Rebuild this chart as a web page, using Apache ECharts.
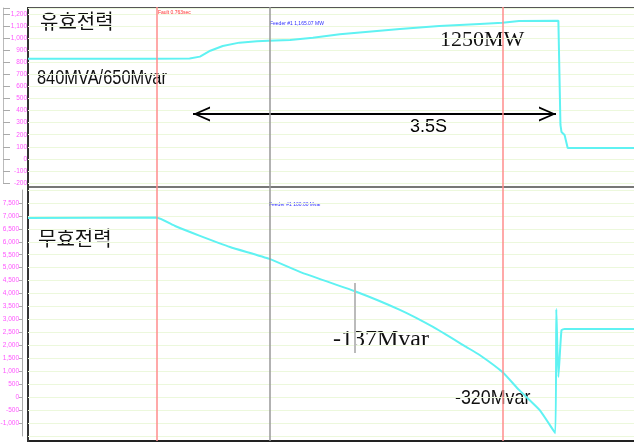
<!DOCTYPE html>
<html>
<head>
<meta charset="utf-8">
<script src="https://cdn.jsdelivr.net/npm/echarts@6/dist/echarts.min.js"></script>
<style>
  html, body { margin: 0; padding: 0; background: #fff; }
  #chart { width: 634px; height: 443px; }
</style>
</head>
<body>
<div id="chart"></div>
<script type="text/javascript">
// time axis (seconds) shared by both panels
var tMax = 5.85;

// active power trace (top panel)
var timeP   = [0, 1.18, 1.56, 1.66, 1.76, 1.88, 2.04, 2.21, 2.32, 2.53, 2.75, 3.01, 3.59, 3.97, 4.36, 4.58, 4.74, 5.12, 5.14, 5.15, 5.18, 5.21, 5.85];
var activeP = [830, 830, 832, 847, 896, 935, 963, 974, 979, 985, 1004, 1032, 1076, 1101, 1118, 1128, 1142, 1145, 281, 223, 198, 90, 90];

// reactive power trace (bottom panel)
var timeQ     = [0, 1.24, 1.42, 1.66, 1.95, 2.33, 2.63, 3.15, 3.59, 3.91, 4.23, 4.36, 4.58, 4.74, 4.94, 5.09, 5.10, 5.12, 5.15, 5.18, 5.85];
var reactiveQ = [6920, 6940, 6610, 6230, 5800, 5340, 4830, 4100, 3370, 2710, 1940, 1630, 970, 280, -500, -1390, 3400, 780, 2590, 2630, 2630];

// y tick ranges
var pTicks = { min: -200, max: 1250, step: 100 };
var qTicks = { min: -1500, max: 8000, step: 500 };

// cursors / events
var faultT = 1.235, cursorT = 2.326, tripT = 4.585;
var cursor2T = 3.156, cursor2Q = [4407, 1704];
var arrowT = [1.593, 5.097], arrowP = 372;

function zip(xs, ys) {
    var out = [];
    for (var i = 0; i < xs.length; i++) out.push([xs[i], ys[i]]);
    return out;
}

var cyan = '#5ff2f2';
var gridGreen = '#ecf8dc';
var pink = '#ff55ff';
// open chevron, tip at the symbol centre
var chevron = 'path://M7.5,0L7.5,0M0,34L7.5,17L15,34L13,34L7.5,21L2,34Z';

function hiddenAxis(extra) {
    var a = {
        type: 'value',
        axisLine: { show: false, onZero: false }, axisTick: { show: false },
        axisLabel: { show: false }, splitLine: { show: false }
    };
    return echarts.util.extend(a, extra);
}

var dom = document.getElementById('chart');
var chart = echarts.init(dom);

var option = {
    animation: false,
    backgroundColor: '#fff',
    grid: [
        { left: 28, right: 0, top: 8, height: 175, containLabel: false, outerBoundsMode: 'none' },
        { left: 28, right: 0, top: 190, height: 246, containLabel: false, outerBoundsMode: 'none' },
        { left: 28, right: 0, top: 7, height: 434, containLabel: false, outerBoundsMode: 'none' }
    ],
    xAxis: [
        hiddenAxis({ gridIndex: 0, min: 0, max: tMax }),
        hiddenAxis({ gridIndex: 1, min: 0, max: tMax }),
        hiddenAxis({ gridIndex: 2, min: 0, max: tMax })
    ],
    yAxis: [
        {
            gridIndex: 0, type: 'value', min: pTicks.min, max: pTicks.max, interval: pTicks.step,
            axisLine: { show: false, onZero: false },
            axisTick: { show: false },
            axisLabel: { fontSize: 6.5, color: pink, margin: 1, showMaxLabel: false },
            splitLine: { lineStyle: { color: gridGreen, width: 1 } },
            name: 'Active Power (MW)', nameLocation: 'middle', nameRotate: 90, nameGap: 13,
            nameTextStyle: { color: '#ff4040', fontSize: 6 }
        },
        {
            // gray ruler at the far left of the top panel
            gridIndex: 0, type: 'value', position: 'left', offset: 25,
            min: pTicks.min, max: pTicks.max, interval: pTicks.step,
            axisLine: { show: true, onZero: false, lineStyle: { color: '#bbb' } },
            axisTick: { show: true, inside: true, length: 7, lineStyle: { color: '#aaa' } },
            axisLabel: { show: false },
            splitLine: { show: false }
        },
        {
            gridIndex: 1, type: 'value', min: qTicks.min, max: qTicks.max, interval: qTicks.step,
            position: 'left', offset: 6,
            axisLine: { show: true, onZero: false, lineStyle: { color: '#aaa' } },
            axisTick: { show: true, length: 3, lineStyle: { color: '#aaa' } },
            axisLabel: { fontSize: 6.5, color: pink, margin: 3, showMinLabel: false, showMaxLabel: false },
            splitLine: { lineStyle: { color: gridGreen, width: 1 } },
            name: 'Reactive Power (Mvar)', nameLocation: 'middle', nameRotate: 90, nameGap: 17,
            nameTextStyle: { color: '#ff4040', fontSize: 6 }
        },
        hiddenAxis({ gridIndex: 2, min: 0, max: 1 })
    ],
    series: [
        {
            type: 'line', xAxisIndex: 0, yAxisIndex: 0,
            data: zip(timeP, activeP),
            symbol: 'none', silent: true,
            lineStyle: { color: cyan, width: 2 },
            markLine: {
                silent: true, animation: false,
                label: { show: false },
                lineStyle: { color: '#000', width: 2, type: 'solid' },
                data: [[
                    { coord: [arrowT[0], arrowP], symbol: chevron, symbolSize: [15, 34] },
                    { coord: [arrowT[1], arrowP], symbol: chevron, symbolSize: [15, 34] }
                ]]
            }
        },
        {
            type: 'line', xAxisIndex: 1, yAxisIndex: 2,
            data: zip(timeQ, reactiveQ),
            symbol: 'none', silent: true, smooth: 0.15,
            lineStyle: { color: cyan, width: 2 },
            markLine: {
                silent: true, animation: false, symbol: 'none',
                label: { show: false },
                lineStyle: { color: '#bbb', width: 2, type: 'solid' },
                data: [[
                    { coord: [cursor2T, cursor2Q[0]] },
                    { coord: [cursor2T, cursor2Q[1]] }
                ]]
            }
        },
        {
            // vertical event cursors across both panels
            type: 'line', xAxisIndex: 2, yAxisIndex: 3,
            data: [], symbol: 'none', silent: true,
            markLine: {
                silent: true, animation: false, symbol: 'none',
                label: { show: false },
                data: [
                    { xAxis: faultT, lineStyle: { color: '#ff8c8c', width: 1.5, type: 'solid' } },
                    { xAxis: cursorT, lineStyle: { color: '#999', width: 1.5, type: 'solid' } },
                    { xAxis: tripT, lineStyle: { color: '#ff8c8c', width: 1.5, type: 'solid' } }
                ]
            }
        }
    ],
    graphic: [
        // panel frame
        { type: 'line', shape: { x1: 28, y1: 8, x2: 634, y2: 8 }, style: { stroke: '#555', lineWidth: 2 } },
        { type: 'line', shape: { x1: 28, y1: 187, x2: 634, y2: 187 }, style: { stroke: '#777', lineWidth: 2 } },
        { type: 'line', shape: { x1: 28, y1: 441, x2: 634, y2: 441 }, style: { stroke: '#222', lineWidth: 2 } },
        { type: 'line', shape: { x1: 28, y1: 7, x2: 28, y2: 442 }, style: { stroke: '#333', lineWidth: 2 } },
        // cursor captions
        { type: 'text', x: 158, y: 10, style: { text: 'Fault 0.763sec', font: '5px sans-serif', fill: '#ff3030' } },
        { type: 'text', x: 270, y: 21, style: { text: 'Feeder #1 1,165.07 MW', font: '5px sans-serif', fill: '#3030ff' } },
        { type: 'text', x: 269, y: 202, style: { text: 'Feeder #1 100.00 Mvar', font: '5px sans-serif', fill: '#3030ff' } },
        // annotations
        { type: 'text', x: 40, y: 11, style: { text: '유효전력', font: '20px "Noto Sans CJK KR"', fill: '#111' } },
        { type: 'text', x: 38, y: 228, style: { text: '무효전력', font: '20px "Noto Sans CJK KR"', fill: '#111' } },
        { type: 'text', x: 37, y: 68, scaleX: 0.78, style: { text: '840MVA/650Mvar', font: '21px "Liberation Sans"', fill: '#111' } },
        { type: 'text', x: 440, y: 29, style: { text: '1250MW', font: '22px "Liberation Serif"', fill: '#111' } },
        { type: 'text', x: 410, y: 118, style: { text: '3.5S', font: '18px "Liberation Sans"', fill: '#000' } },
        { type: 'text', x: 333, y: 328, style: { text: '-137Mvar', font: '24px "Liberation Serif"', fill: '#111' } },
        { type: 'text', x: 455, y: 388, scaleX: 0.85, style: { text: '-320Mvar', font: '21px "Liberation Sans"', fill: '#111' } }
    ]
};

chart.setOption(option);
</script>
</body>
</html>
